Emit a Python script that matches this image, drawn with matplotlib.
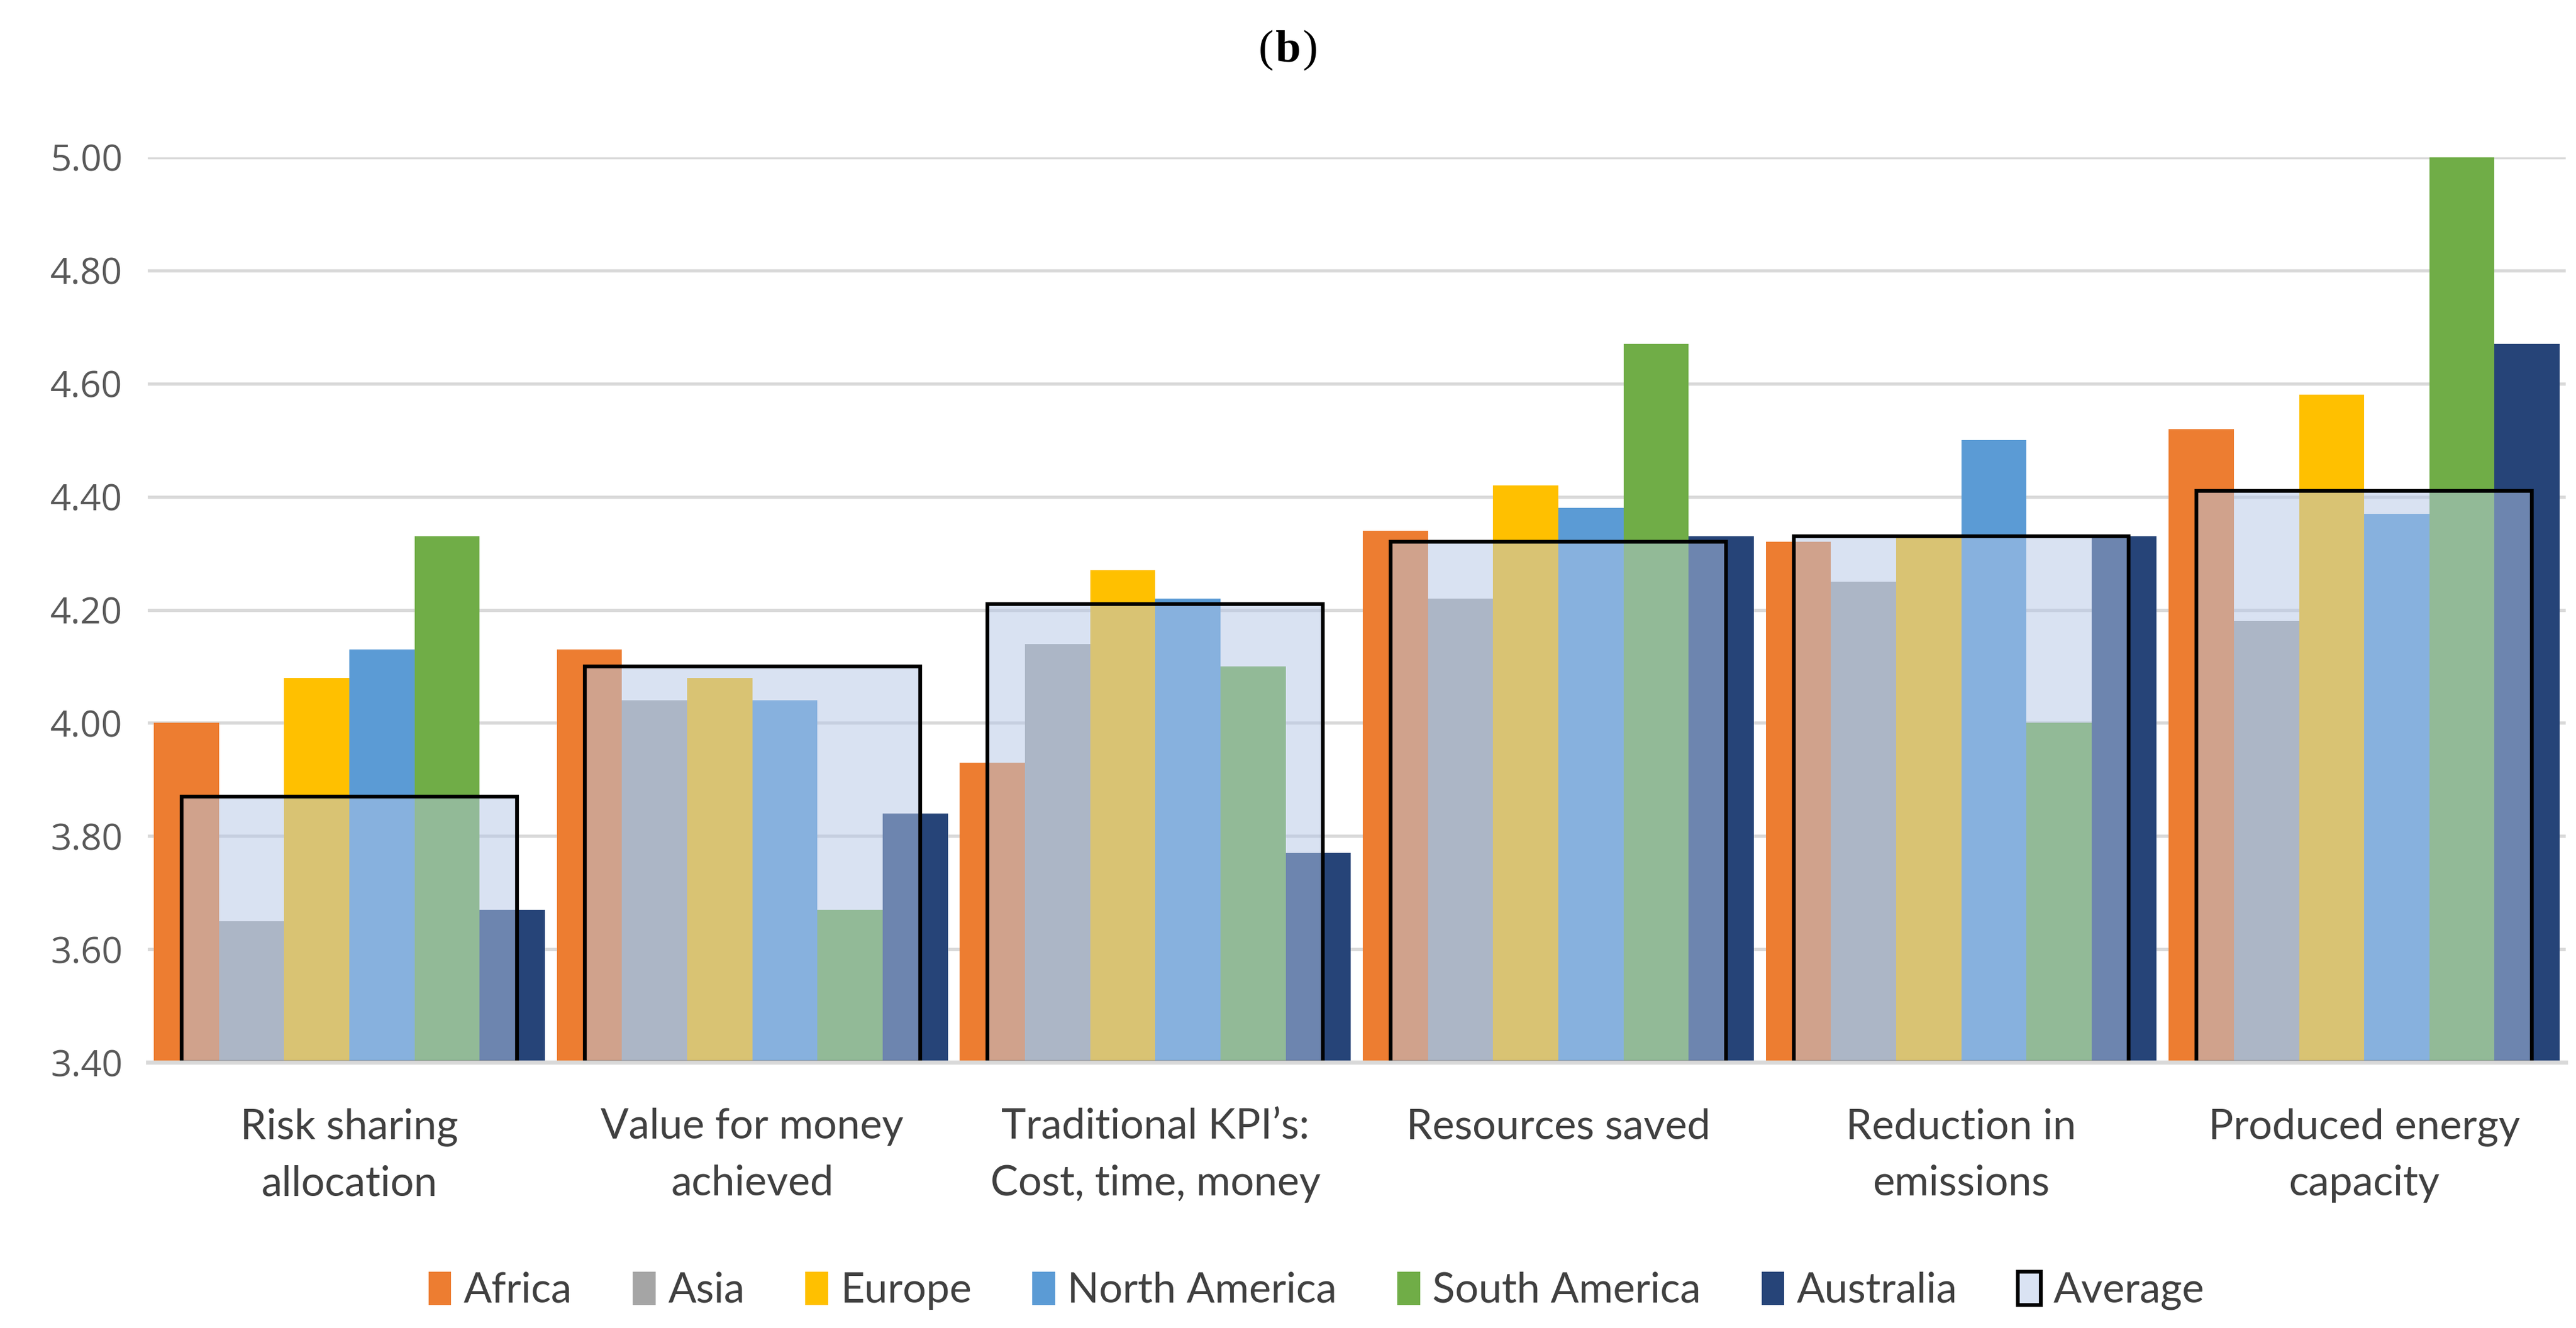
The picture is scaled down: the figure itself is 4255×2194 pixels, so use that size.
import numpy as np
import matplotlib
matplotlib.use("Agg")
import matplotlib.pyplot as plt
from matplotlib.patches import Patch

# categories and series
categories = ["Risk sharing\nallocation", "Value for money\nachieved",
              "Traditional KPI\u2019s:\nCost, time, money", "Resources saved",
              "Reduction in\nemissions", "Produced energy\ncapacity"]
regions = ["Africa", "Asia", "Europe", "North America", "South America", "Australia"]

africa = [4.00, 4.13, 3.93, 4.34, 4.32, 4.52]
asia = [3.65, 4.04, 4.14, 4.22, 4.25, 4.18]
europe = [4.08, 4.08, 4.27, 4.42, 4.33, 4.58]
north_america = [4.13, 4.04, 4.22, 4.38, 4.50, 4.37]
south_america = [4.33, 3.67, 4.10, 4.67, 4.00, 5.00]
australia = [3.67, 3.84, 3.77, 4.33, 4.33, 4.67]
average = [3.87, 4.10, 4.21, 4.32, 4.33, 4.41]

series = [africa, asia, europe, north_america, south_america, australia]
colors = ["#ED7D31", "#A5A5A5", "#FFC000", "#5B9BD5", "#70AD47", "#264478"]

plt.rcParams["font.family"] = ["Lato", "DejaVu Sans"]

fig = plt.figure(figsize=(4255 / 300, 2194 / 300), dpi=300)
ax = fig.add_axes([0.0574, 0.2, 0.9386, 0.6815])

x = np.arange(len(categories))
w = 0.97 / 6
for i, (vals, c) in enumerate(zip(series, colors)):
    ax.bar(x + (i - 2.5) * w, np.array(vals) - 3.4, w, bottom=3.4,
           color=c, linewidth=0, zorder=2)

# average drawn over the regions, half transparent
ax.bar(x, np.array(average) - 3.4, 0.832, bottom=3.4,
       facecolor=(0.706, 0.78, 0.906, 0.5), edgecolor="black",
       linewidth=1.5, zorder=3)

ax.set_xlim(-0.5, 5.5)
ax.set_ylim(3.4, 5.0)
ax.set_yticks(np.arange(3.4, 5.01, 0.2))
ax.set_yticklabels([f"{v:.2f}" for v in np.arange(3.4, 5.01, 0.2)],
                   fontsize=14.5, color="#595959", family=["Open Sans", "DejaVu Sans"])
ax.set_xticks(x)
ax.set_xticklabels(categories, fontsize=16.5, color="#404040", linespacing=1.6)
ax.tick_params(axis="x", length=0, pad=18)
ax.tick_params(axis="y", length=0, pad=10)
ax.yaxis.grid(True, color="#D9D9D9", linewidth=1.3)
ax.set_axisbelow(True)
for s in ["top", "right", "left"]:
    ax.spines[s].set_visible(False)
ax.spines["bottom"].set_color("#D9D9D9")
ax.spines["bottom"].set_linewidth(1.6)
ax.spines["bottom"].set_zorder(4)

fig.text(0.4915, 0.962, "(", ha="center", va="center", fontsize=18,
         family="Liberation Serif")
fig.text(0.5, 0.962, "b", ha="center", va="center", fontsize=18,
         family="Liberation Serif", fontweight="bold")
fig.text(0.5085, 0.962, ")", ha="center", va="center", fontsize=18,
         family="Liberation Serif")

handles = [Patch(facecolor=c, edgecolor="none", label=r) for r, c in zip(regions, colors)]
handles.append(Patch(facecolor="#DAE3F3", edgecolor="black", linewidth=1.5, label="Average"))
fig.legend(handles=handles, loc="center", bbox_to_anchor=(0.511, 0.028), ncol=7,
           frameon=False, fontsize=16.5, handlelength=0.55, handleheight=0.85,
           handletextpad=0.3, columnspacing=1.45, labelcolor="#404040")

fig.savefig("out.png", dpi=300)
